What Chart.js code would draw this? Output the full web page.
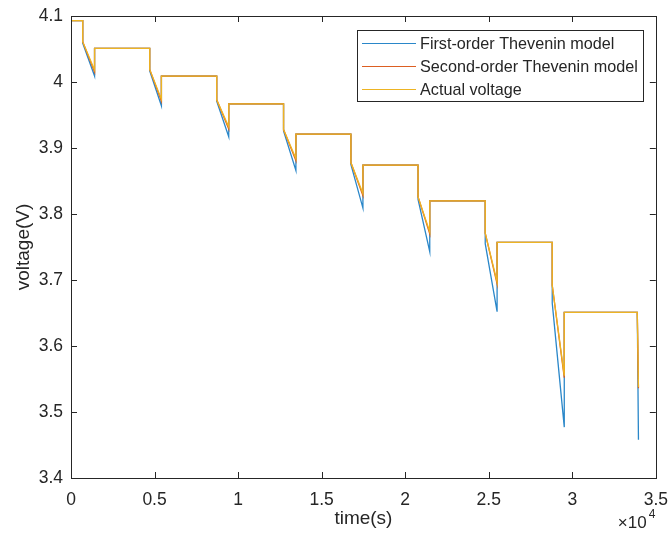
<!DOCTYPE html>
<html>
<head>
<meta charset="utf-8">
<script src="https://cdn.jsdelivr.net/npm/chart.js@4/dist/chart.umd.min.js"></script>
<style>
	body { margin: 0; background: #fff; }
	#box { width: 672px; height: 534px; }
</style>
</head>
<body>
<div id="box"><canvas id="myChart"></canvas></div>
<script>
/* 資料 */
// 每段放電脈衝的開始、結束時間 (s)
var pulseStart = [700, 4710, 8720, 12720, 16750, 20770, 24790, 28800, 33890];
var pulseEnd   = [1410, 5410, 9440, 13460, 17470, 21470, 25500, 29520, 33960];
// 靜置電壓, restLevel[k] 為第 k 段脈衝之前的電壓
var restLevel = [4.093, 4.051, 4.009, 3.967, 3.921, 3.874, 3.820, 3.757, 3.651];
// 實際電壓: 脈衝開始 / 結束
var actualStart = [4.061, 4.019, 3.973, 3.928, 3.878, 3.826, 3.771, 3.692, 3.651];
var actualEnd   = [4.018, 3.974, 3.932, 3.884, 3.831, 3.773, 3.697, 3.555, 3.538];
// 一階 Thevenin 模型
var firstStart = [4.059, 4.017, 3.971, 3.926, 3.875, 3.822, 3.755, 3.665, 3.651];
var firstEnd   = [4.009, 3.964, 3.917, 3.866, 3.809, 3.743, 3.652, 3.477, 3.458];
// 二階 Thevenin 模型
var secondStart = [4.061, 4.019, 3.973, 3.928, 3.878, 3.826, 3.771, 3.692, 3.651];
var secondEnd   = [4.015, 3.971, 3.929, 3.881, 3.828, 3.770, 3.694, 3.552, 3.536];

var seriesNames = ['First-order Thevenin model', 'Second-order Thevenin model', 'Actual voltage'];
var seriesColors = ['#2a87c9', '#dc5f22', '#edb423'];

var xTicks = [0, 5000, 10000, 15000, 20000, 25000, 30000, 35000];
var yTicks = [3.4, 3.5, 3.6, 3.7, 3.8, 3.9, 4.0, 4.1];

var axisColor = '#262626';
var fontName = '"Liberation Sans", Arial, Helvetica, sans-serif';

// 把脈衝資料轉成折線點
function buildPoints(startV, endV) {
	var pts = [{ x: 0, y: restLevel[0] }];
	for (var i = 0; i < pulseStart.length; i++) {
		pts.push({ x: pulseStart[i], y: restLevel[i] });
		pts.push({ x: pulseStart[i], y: startV[i] });
		pts.push({ x: pulseEnd[i], y: endV[i] });
		if (i + 1 < restLevel.length) {
			pts.push({ x: pulseEnd[i], y: restLevel[i + 1] });
		}
	}
	return pts;
}

/* 外框、刻度、圖例 (MATLAB 風格) */
var matlabBox = {
	id: 'matlabBox',
	afterDraw: function(chart) {
		var ctx = chart.ctx;
		var a = chart.chartArea;
		var xs = chart.scales.x, ys = chart.scales.y;
		ctx.save();
		ctx.strokeStyle = axisColor;
		ctx.lineWidth = 1;
		ctx.strokeRect(Math.round(a.left) + 0.5, Math.round(a.top) + 0.5,
			Math.round(a.right) - Math.round(a.left), Math.round(a.bottom) - Math.round(a.top));
		var tl = 6;
		ctx.beginPath();
		xTicks.forEach(function(v) {
			var px = Math.round(xs.getPixelForValue(v)) + 0.5;
			ctx.moveTo(px, a.bottom); ctx.lineTo(px, a.bottom - tl);
			ctx.moveTo(px, a.top); ctx.lineTo(px, a.top + tl);
		});
		yTicks.forEach(function(v) {
			var py = Math.round(ys.getPixelForValue(v)) + 0.5;
			ctx.moveTo(a.left, py); ctx.lineTo(a.left + tl, py);
			ctx.moveTo(a.right, py); ctx.lineTo(a.right - tl, py);
		});
		ctx.stroke();

		// x10^4
		ctx.fillStyle = axisColor;
		ctx.textBaseline = 'alphabetic';
		ctx.textAlign = 'left';
		ctx.font = '17px ' + fontName;
		ctx.fillText('\u00d710', a.right - 38, 528);
		ctx.font = '12px ' + fontName;
		ctx.fillText('4', a.right - 7, 518);

		// 圖例
		var lx = 357, ly = 30, lw = 286, lh = 71;
		ctx.fillStyle = '#fff';
		ctx.fillRect(lx, ly, lw, lh);
		ctx.strokeStyle = axisColor;
		ctx.strokeRect(lx + 0.5, ly + 0.5, lw, lh);
		ctx.font = '16.2px ' + fontName;
		ctx.textBaseline = 'middle';
		chart.data.datasets.forEach(function(ds, i) {
			var yy = ly + 13.5 + i * 23;
			ctx.strokeStyle = ds.borderColor;
			ctx.lineWidth = 1.2;
			ctx.beginPath();
			ctx.moveTo(lx + 5, yy); ctx.lineTo(lx + 59, yy);
			ctx.stroke();
			ctx.fillStyle = axisColor;
			ctx.fillText(ds.label, lx + 63, yy + 1);
		});
		ctx.restore();
	}
};

var ctx = document.getElementById('myChart');
var myChart = new Chart(ctx, {
	type: 'line',
	data: {
		datasets: [
			{ label: seriesNames[0], data: buildPoints(firstStart, firstEnd), borderColor: seriesColors[0], order: 3 },
			{ label: seriesNames[1], data: buildPoints(secondStart, secondEnd), borderColor: seriesColors[1], order: 2 },
			{ label: seriesNames[2], data: buildPoints(actualStart, actualEnd), borderColor: seriesColors[2], order: 1 }
		]
	},
	options: {
		animation: false,
		responsive: true,
		maintainAspectRatio: false,
		layout: { padding: { top: 16, right: 14, left: 0, bottom: 0 } },
		elements: {
			point: { radius: 0 },
			line: { borderWidth: 1.3, tension: 0 }
		},
		plugins: {
			legend: { display: false },
			tooltip: { enabled: false }
		},
		scales: {
			x: {
				type: 'linear',
				min: 0, max: 35000,
				afterBuildTicks: function(s) { s.ticks = xTicks.map(function(v) { return { value: v }; }); },
				afterFit: function(s) { s.height = 56; },
				border: { display: false },
				grid: { display: false },
				ticks: {
					color: axisColor, padding: 4, maxRotation: 0,
					font: { family: fontName, size: 17.5 },
					callback: function(v) { return String(v / 10000); }
				},
				title: {
					display: true, text: 'time(s)', color: axisColor,
					font: { family: fontName, size: 19 }, padding: { top: 0, bottom: 4 }
				}
			},
			y: {
				min: 3.4, max: 4.1,
				afterBuildTicks: function(s) { s.ticks = yTicks.map(function(v) { return { value: v }; }); },
				afterFit: function(s) { s.width = 71; },
				border: { display: false },
				grid: { display: false },
				ticks: {
					color: axisColor, padding: 0,
					font: { family: fontName, size: 17.5 },
					callback: function(v) { return String(+v.toFixed(1)); }
				},
				title: {
					display: true, text: 'voltage(V)', color: axisColor,
					font: { family: fontName, size: 19 }, padding: { top: 12, bottom: 0 }
				}
			}
		}
	},
	plugins: [matlabBox]
});
</script>
</body>
</html>
